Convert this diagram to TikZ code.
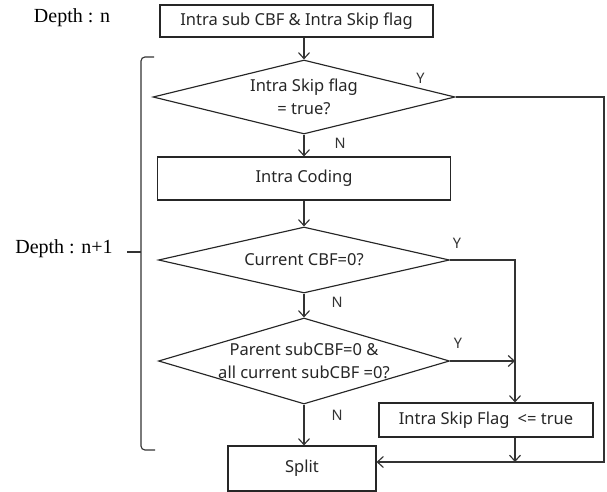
\documentclass[tikz,border=0pt]{standalone}
\usepackage{fontspec}
\setmainfont{Liberation Serif}
\newfontfamily\boxfont{Noto Sans}
\usetikzlibrary{shapes.geometric,arrows.meta}

\begin{document}
\begin{tikzpicture}[x=1pt,y=1pt,line width=1.15pt]
\tikzstyle{bx} = [rectangle, draw=black!85, inner sep=0pt, text=black!85, text centered, font=\boxfont\fontsize{16.5}{23.5}\selectfont]
\tikzstyle{dm} = [diamond, draw=black!85, inner sep=0pt]
\tikzstyle{dt} = [text=black!85, align=center, font=\boxfont\fontsize{16.5}{23.5}\selectfont]
\tikzstyle{yn} = [inner sep=0pt, text=black!80, font=\boxfont\fontsize{14.5}{16}\selectfont]
\tikzstyle{ar} = [draw=black!80, -{Straight Barb[length=6pt,width=11pt]}]
\useasboundingbox (0,0) rectangle (607,-492);
\node (DepN) at (72,-18) {\fontsize{20}{24}\selectfont Depth : n};
\node (DepM) at (64,-249) {\fontsize{20}{24}\selectfont Depth : n+1};
\node (Top) [bx, minimum width=273pt, minimum height=32pt] at (296.5,-21) {Intra sub CBF \& Intra Skip flag};
\node (Chk) [dm, minimum width=302pt, minimum height=74pt, label={[dt]center:Intra Skip flag\\= true?}] at (304,-97) {};
\node (Code) [bx, below of=Chk, node distance=81.5pt, minimum width=293pt, minimum height=43pt] {Intra Coding};
\node (Cbf) [dm, below of=Code, node distance=81.5pt, minimum width=291pt, minimum height=66pt, label={[dt]center:Current CBF=0?}] {};
\node (Par) [dm, below of=Cbf, node distance=101pt, minimum width=291pt, minimum height=86pt, label={[dt]center:Parent subCBF=0 \&\\all current subCBF =0?}] {};
\node (Set) [bx, minimum width=214pt, minimum height=34pt] at (486,-420) {Intra Skip Flag\enspace<= true};
\node (Split) [bx, below of=Par, node distance=107.5pt, xshift=-2pt, minimum width=148pt, minimum height=45pt] {Split};
\coordinate (Rail) at (604,-462);
\coordinate (Join) at (515,-462);
% main column
\draw[ar] (Top.south -| Chk.north) -- (Chk.north);
\draw[ar] (Chk.south) -- node[yn, pos=.4, right=30pt] {N} (Code.north);
\draw[ar] (Code.south) -- (Cbf.north);
\draw[ar] (Cbf.south) -- node[yn, pos=.36, right=27pt] {N} (Par.north);
\draw[ar] (Par.south) -- node[yn, pos=.26, right=27pt] {N} (Par.south |- Split.north);
% yes branches
\draw[ar] (Chk.east) node[yn, xshift=-35pt, yshift=19pt] {Y} -| (Rail) -- (Split.east |- Rail);
\draw[ar] (Cbf.east) node[yn, xshift=7pt, yshift=17pt] {Y} -| (Join |- Set.north);
\draw[ar] (Par.east) node[yn, xshift=8pt, yshift=18pt] {Y} -- (Par.east -| Join);
\draw[ar] (Set.south -| Join) -- (Join);
% bracket
\draw[draw=black!80, rounded corners=4pt] (154,-57) -- (141,-57) -- (141,-450) -- (155,-450);
\draw[draw=black!80] (141,-252) -- (127,-252);
\end{tikzpicture}
\end{document}
